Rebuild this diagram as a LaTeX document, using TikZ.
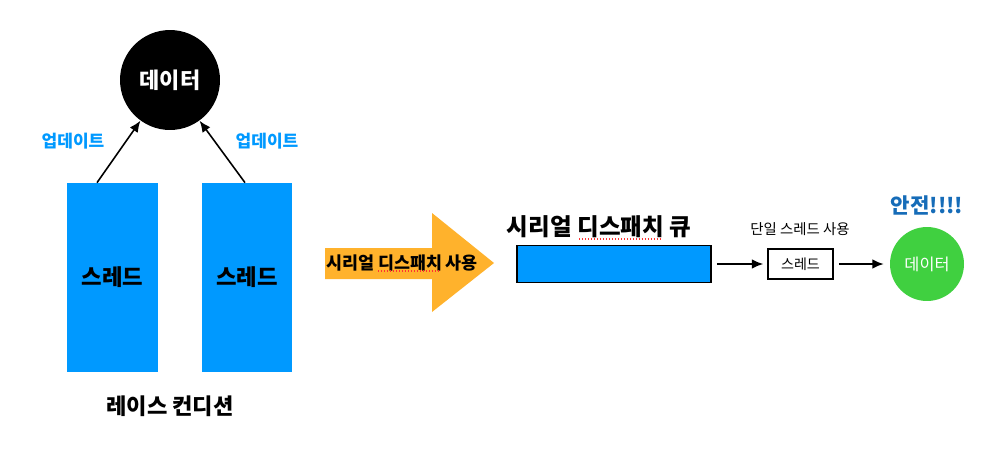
\documentclass[tikz,border=0pt]{standalone}
\usepackage{fontspec}
\usetikzlibrary{arrows.meta}
\setmainfont{Noto Sans CJK KR}
\definecolor{threadblue}{RGB}{0,153,255}
\definecolor{safeblue}{RGB}{22,108,184}
\definecolor{arroworange}{RGB}{255,178,44}
\definecolor{datagreen}{RGB}{64,208,64}
\begin{document}
\begin{tikzpicture}[x=0.02cm,y=-0.02cm,
	thread/.style={fill=threadblue, inner sep=0pt, minimum width=1.82cm, minimum height=3.78cm, font=\fontsize{12.7}{14}\selectfont\bfseries},
	conn/.style={-{Latex[length=6.5pt,width=5.5pt]}, line width=0.9pt},
	squiggle/.style={red!80, densely dotted, line width=0.7pt}]
		\useasboundingbox (0,0) rectangle (996,463);
		% race condition
		\node[circle, fill=black, minimum size=2cm, inner sep=0pt, text=white, font=\fontsize{12.5}{14}\selectfont\bfseries] (data) at (170,80) {데이터};
		\node[thread] (t1) at (112.5,277.5) {스레드};
		\node[thread] (t2) at (247,277.5) {스레드};
		\draw [conn] ([xshift=-0.31cm]t1.north) -- (data.234);
		\draw [conn] ([xshift=-0.04cm]t2.north) -- (data.306);
		\node[text=threadblue, font=\fontsize{9.7}{11}\selectfont\bfseries] (u1) at (73,141) {업데이트};
		\node[text=threadblue, font=\fontsize{9.7}{11}\selectfont\bfseries] (u2) at (267,141) {업데이트};
		\node[font=\fontsize{12.6}{14}\selectfont\bfseries] (race) at (170,406) {레이스 컨디션};
		% serial dispatch
		\fill [arroworange] (325,248) -- (432,248) -- (432,213) -- (494,263) -- (432,312) -- (432,279) -- (325,279) -- cycle;
		\node[font=\fontsize{9.9}{11}\selectfont\bfseries] (use) at (402,263) {시리얼 디스패치 사용};
		\draw [squiggle] (378,271) -- (438,271);
		\node[font=\fontsize{13.4}{15}\selectfont\bfseries] (qlabel) at (599,227) {시리얼 디스패치 큐};
		\draw [squiggle] (579,239) -- (660,239);
		\node[draw, line width=1.1pt, fill=threadblue, inner sep=0pt, minimum width=3.88cm, minimum height=0.74cm] (queue) at (614,264) {};
		\node[draw, line width=0.85pt, inner sep=0pt, minimum width=1.3cm, minimum height=0.6cm, font=\fontsize{8}{9}\selectfont] (single) at (800.5,264) {스레드};
		\node[font=\fontsize{8.2}{9}\selectfont] (slabel) at (800,229) {단일 스레드 사용};
		\node[circle, fill=datagreen, minimum size=1.48cm, inner sep=0pt, text=white, font=\fontsize{9.3}{10}\selectfont] (safe) at (927,264) {데이터};
		\node[text=safeblue, font=\fontsize{12}{14}\selectfont\bfseries] (ok) at (927,205) {안전!!!!};
		\draw [conn, shorten <=0.1cm, shorten >=0.08cm] (queue.east) -- (single.west);
		\draw [conn, shorten <=0.1cm, shorten >=0.12cm] (single.east) -- (safe.west);
	\end{tikzpicture}
\end{document}
